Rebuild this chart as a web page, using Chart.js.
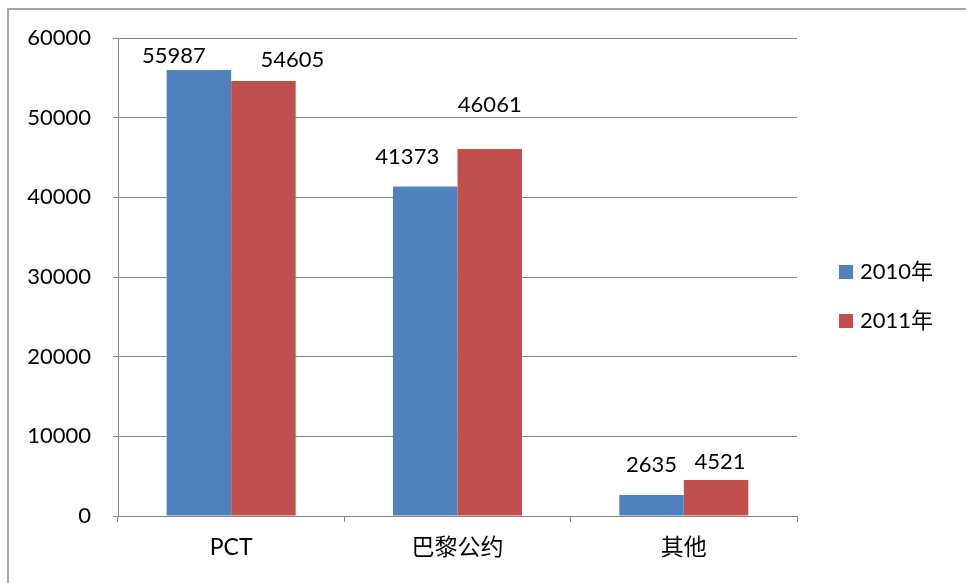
<!DOCTYPE html>
<html>
<head>
<meta charset="utf-8">
<script src="https://cdn.jsdelivr.net/npm/chart.js@4"></script>
<style>
  html, body { margin: 0; padding: 0; background: #fff; }
  #wrap { width: 966px; height: 583px; position: relative; }
</style>
</head>
<body>
<div id="wrap"><canvas id="myChart"></canvas></div>
<script>
'use strict';

//////////////// data ///////////////////
const categories = ['PCT', '巴黎公约', '其他'];
const seriesNames = ['2010年', '2011年'];
const values2010 = [55987, 41373, 2635];
const values2011 = [54605, 46061, 4521];
const yTicks = [0, 10000, 20000, 30000, 40000, 50000, 60000];

const colors = ['#4F81BD', '#C0504D'];
const FONT = "Lato, 'Noto Sans CJK SC', sans-serif";

// where each value label sits, relative to its bar top (style only)
const labelShift = [
  [[-25, -14], [-18, -29], [0, -30]],
  [[29, -21], [0, -44], [4, -18]]
];

//////////////// plugins ///////////////////
const frame = {
  id: 'frame',
  beforeDraw(chart) {
    let ctx = chart.ctx;
    ctx.save();
    ctx.strokeStyle = '#a6a6a6';
    ctx.lineWidth = 2;
    ctx.beginPath();
    ctx.moveTo(8, chart.height);
    ctx.lineTo(8, 9);
    ctx.lineTo(chart.width, 9);
    ctx.stroke();
    ctx.restore();
  }
};

const valueLabels = {
  id: 'valueLabels',
  afterDatasetsDraw(chart) {
    let ctx = chart.ctx;
    ctx.save();
    ctx.font = '22px ' + FONT;
    ctx.fillStyle = '#000';
    ctx.textAlign = 'center';
    ctx.textBaseline = 'middle';
    chart.data.datasets.forEach((ds, i) => {
      chart.getDatasetMeta(i).data.forEach((bar, j) => {
        let s = labelShift[i][j];
        ctx.fillText(String(ds.data[j]), bar.x + s[0], bar.y + s[1]);
      });
    });
    ctx.restore();
  }
};

const sideLegend = {
  id: 'sideLegend',
  afterDraw(chart) {
    let ctx = chart.ctx;
    ctx.save();
    ctx.font = '22px ' + FONT;
    ctx.textBaseline = 'middle';
    chart.data.datasets.forEach((ds, i) => {
      let cy = 272 + i * 49;
      ctx.fillStyle = ds.backgroundColor;
      ctx.fillRect(839, cy - 7, 14, 14);
      ctx.fillStyle = '#000';
      ctx.fillText(ds.label, 860, cy);
    });
    ctx.restore();
  }
};

//////////////// chart ///////////////////
let ctx = document.getElementById('myChart').getContext('2d');
let myChart = new Chart(ctx, {
  type: 'bar',
  data: {
    labels: categories,
    datasets: [{
      label: seriesNames[0],
      data: values2010,
      backgroundColor: colors[0],
      categoryPercentage: 0.57,
      barPercentage: 1
    }, {
      label: seriesNames[1],
      data: values2011,
      backgroundColor: colors[1],
      categoryPercentage: 0.57,
      barPercentage: 1
    }]
  },
  options: {
    responsive: true,
    maintainAspectRatio: false,
    animation: false,
    layout: { padding: { left: 0, right: 169, top: 38, bottom: 0 } },
    plugins: {
      legend: { display: false },
      tooltip: { enabled: false }
    },
    scales: {
      x: {
        grid: {
          offset: true,
          drawOnChartArea: false,
          color: '#868686',
          tickLength: 6
        },
        border: { color: '#868686', width: 1 },
        ticks: {
          color: '#000',
          font: { family: FONT, size: 23 },
          padding: 12
        },
        afterFit(scale) { scale.height = 583 - 516; }
      },
      y: {
        min: 0,
        max: 60000,
        afterBuildTicks(scale) { scale.ticks = yTicks.map(v => ({ value: v })); },
        grid: { color: '#868686', tickLength: 5 },
        border: { color: '#868686', width: 1 },
        ticks: {
          color: '#000',
          font: { family: FONT, size: 22 },
          padding: 22,
          callback: v => String(v)
        },
        afterFit(scale) { scale.width = 118; }
      }
    }
  },
  plugins: [frame, valueLabels, sideLegend]
});
</script>
</body>
</html>
